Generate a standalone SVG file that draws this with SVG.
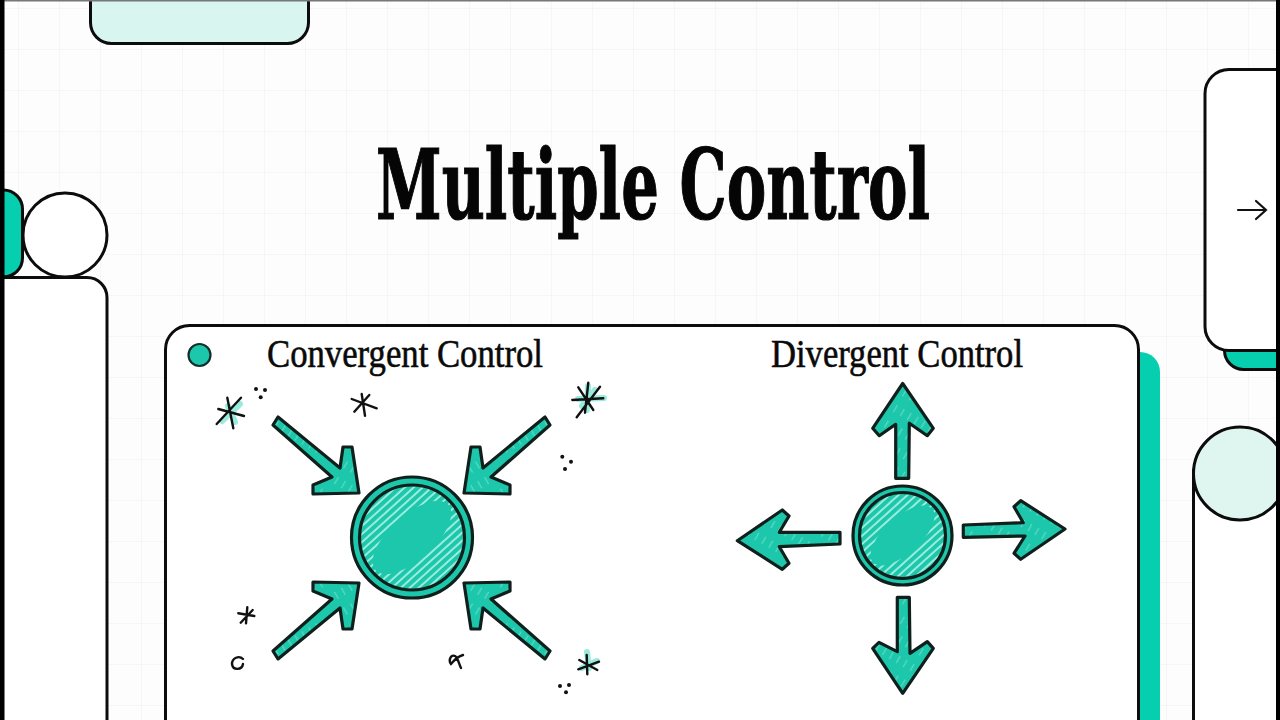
<svg xmlns="http://www.w3.org/2000/svg" width="1280" height="720" viewBox="0 0 1280 720">
<style>
.line{stroke:#0c0c0c;stroke-width:3;stroke-linejoin:round}
.thin{stroke:#111;stroke-width:2.2;fill:none;stroke-linecap:round}
.ink{stroke:#0e1f1c;stroke-width:3.2;stroke-linejoin:round}
.head{font-family:"Liberation Serif","DejaVu Serif",serif;fill:#0a0a0a}
.star{stroke:#111;stroke-width:2.4;fill:none;stroke-linecap:round}
.glow{stroke:#6fe3cf;stroke-width:6;fill:none;stroke-linecap:round;opacity:.7}
.dot{fill:#111}
</style>
<defs>
<pattern id="grid" width="41" height="41" patternUnits="userSpaceOnUse" x="18" y="8">
<path d="M41 0H0V41" fill="none" stroke="#f3f3f3" stroke-width="1.5"/>
</pattern>
<pattern id="hatch" width="6" height="6" patternUnits="userSpaceOnUse" patternTransform="rotate(-42)">
<rect width="6" height="6" fill="#1cc7ab"/>
<rect y="2.200" width="6" height="1.800" fill="#a8f0e3"/>
</pattern>
<pattern id="hatchLight" width="18" height="8" patternUnits="userSpaceOnUse" patternTransform="rotate(-60)">
<rect width="18" height="8" fill="#1cc7ab"/>
<rect y="3" width="8" height="1.300" fill="#5ad9c2"/>
</pattern>
<path id="conv" d="M278 417L340 468L343 447L352 447L359 493L313 494L313 485L332 477L273 425Z"/>
</defs>
<rect width="1280" height="720" fill="#fdfdfd"/>
<rect width="1280" height="720" fill="url(#grid)"/>

<g id="deco-top"><rect class="line" x="90.500" y="-30" width="218" height="73.500" rx="21" fill="#d9f5ef"/><rect width="1280" height="1.500" fill="#777"/></g>

<g id="deco-left">
<rect class="line" x="-40" y="190" width="62.500" height="87" rx="19" fill="#05cfae"/>
<rect class="line" x="-40" y="277.500" width="147" height="480" rx="20" fill="#fff"/>
<circle class="line" cx="65" cy="235" r="42" fill="#fff"/>
</g>

<g id="deco-right">
<rect class="line" x="1224.500" y="300" width="100" height="69.500" rx="19" fill="#05cfae"/>
<rect class="line" x="1205" y="69.500" width="120" height="281" rx="24" fill="#fff"/>
<path class="thin" d="M1238 210H1266M1256 201L1266 210L1256 219"/>
<rect class="line" x="1193.500" y="470" width="120" height="300" fill="#fff"/>
<circle class="line" cx="1240" cy="473.500" r="46.500" fill="#def5f0"/>
</g>

<g id="panel">
<rect x="1100" y="352" width="60" height="420" rx="20" fill="#05cfae"/>
<rect class="line" x="165.500" y="325.500" width="973" height="460" rx="24" fill="#fff"/>
<circle cx="199.500" cy="355" r="11" fill="#1cc7ab" stroke="#12302b" stroke-width="2.200"/>
</g>

<text id="title" x="376" y="219" font-family="'DejaVu Serif Condensed','DejaVu Serif',serif" font-stretch="condensed" font-size="98" font-weight="700" fill="#050505" stroke="#050505" stroke-width="1.200" textLength="554" lengthAdjust="spacingAndGlyphs">Multiple Control</text>
<text id="label-convergent" class="head" x="267" y="367" font-size="41" textLength="276" lengthAdjust="spacingAndGlyphs" stroke="#0a0a0a" stroke-width=".6">Convergent Control</text>
<text id="label-divergent" class="head" x="771" y="367" font-size="41" textLength="252" lengthAdjust="spacingAndGlyphs" stroke="#0a0a0a" stroke-width=".6">Divergent Control</text>

<g id="convergent-center">
<circle class="ink" cx="412" cy="537.500" r="60.500" fill="#1cc7ab"/>
<circle class="ink" cx="412" cy="537.500" r="52.500" fill="url(#hatch)"/>
<ellipse cx="412" cy="537.500" rx="49" ry="22" transform="rotate(-42 412 537.500)" fill="#1cc7ab"/>
</g>
<g id="convergent-arrows">
<use href="#conv" class="ink" fill="url(#hatchLight)"/>
<use href="#conv" class="ink" fill="url(#hatchLight)" transform="matrix(-1 0 0 1 823 0)"/>
<use href="#conv" class="ink" fill="url(#hatchLight)" transform="matrix(1 0 0 -1 0 1076)"/>
<use href="#conv" class="ink" fill="url(#hatchLight)" transform="matrix(-1 0 0 -1 823 1076)"/>
</g>

<g id="doodles">
<path class="glow" d="M222 421L240 404M228 406L235 422"/>
<path class="star" d="M227.300 397.700L233.300 428.300M241 397.700L216.700 424M218.300 409L244 416"/>
<path class="star" d="M361.700 394L365 415.700M369.300 395L354.300 411.700M351.700 399L376.700 408.300"/>
<path class="glow" d="M578 399L604 398M588 386L587 410M595 390L582 406"/>
<path class="star" d="M588.300 382.700L585 412.700M572.300 400L603.300 398.300M578.300 387.300L593.300 410M600 386.700L576.700 417.300"/>
<path class="star" stroke-width="3" d="M247.300 607.300L246 623.300M238.300 613.300L254.300 616M240.700 622.700L252.700 610"/>
<path class="star" d="M243 659C239 655 232 658 232 664C233 671 242 670 243 664" stroke-width="2"/>
<path class="star" d="M463 655C456 657 453 662 451 664C448 660 451 654 455 656C458 658 459 664 461 668" stroke-width="2.200"/>
<path class="glow" d="M587 652L589 668M582 668L597 661" stroke-width="7"/>
<path class="star" d="M586.700 655L587.300 674.300M578.300 669.300L599 661.700M579.300 660L597.300 670"/>
<circle class="dot" cx="256" cy="389" r="2"/><circle class="dot" cx="265" cy="390" r="2"/><circle class="dot" cx="260.700" cy="397.300" r="2"/>
<circle class="dot" cx="562.300" cy="456.700" r="2"/><circle class="dot" cx="571" cy="461.700" r="2"/><circle class="dot" cx="565" cy="469" r="2"/>
<circle class="dot" cx="560" cy="686" r="2"/><circle class="dot" cx="569" cy="685" r="2"/><circle class="dot" cx="566" cy="692.300" r="2"/>
</g>

<g id="divergent-center">
<circle class="ink" cx="902.500" cy="535.500" r="49.500" fill="#1cc7ab"/>
<circle class="ink" cx="902.500" cy="535.500" r="43" fill="url(#hatch)"/>
<ellipse cx="902.500" cy="535.500" rx="40" ry="18" transform="rotate(-42 902.500 535.500)" fill="#1cc7ab"/>
</g>
<g id="divergent-arrows">
<path class="ink" fill="url(#hatchLight)" d="M902.700 383.500L933.300 428.300L927.300 435.700L909.300 423.300L908.700 478.300L895.700 478.300L895.700 424.300L879.300 435.700L872.700 428.300Z"/>
<path class="ink" fill="url(#hatchLight)" d="M897.300 597.300L909.300 597.300L910 653.300L927.300 641.700L933.300 648.300L902.700 693.300L872.700 648.300L879 642.300L897.300 651.700Z"/>
<path class="ink" fill="url(#hatchLight)" d="M963.300 525L1023.300 522.700L1014 506.700L1020.700 500.700L1065 529L1020.700 559.300L1014 553.300L1025 536L963.300 537.300Z"/>
<path class="ink" fill="url(#hatchLight)" d="M840 532.300L779.300 532.300L789 516L782.300 510L737.300 540.700L782.300 569.300L789 563.300L779.300 546.700L840 544Z"/>
</g>

<rect id="bar-left" width="4.500" height="720" fill="#000"/>
<rect id="bar-right" x="1276" width="4" height="720" fill="#000"/>
</svg>
